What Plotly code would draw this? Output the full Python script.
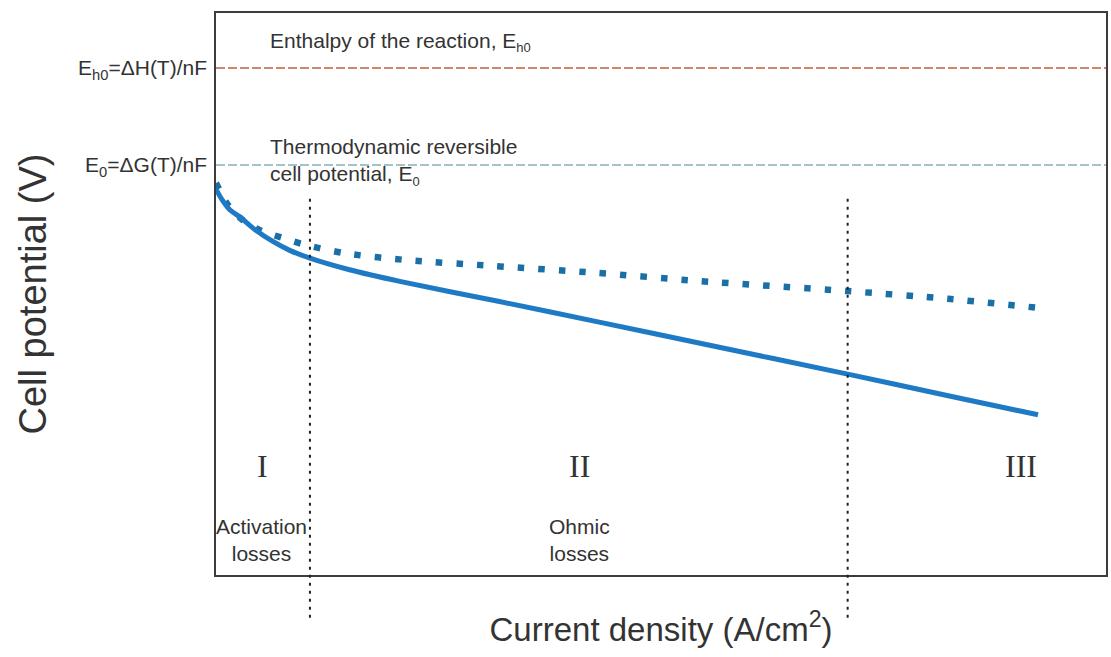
import plotly.graph_objects as go

# ---- data (current density in A/cm^2, cell potential in V) ----
x_actual = [0, 0.015, 0.034, 0.058, 0.094, 0.138, 0.179, 0.228, 0.324, 0.446, 0.688, 0.930, 1.172, 1.533, 1.777, 1.995]
y_actual = [1.168, 1.140, 1.114, 1.096, 1.064, 1.033, 1.010, 0.990, 0.960, 0.930, 0.878, 0.825, 0.771, 0.691, 0.635, 0.586]

x_ideal = [0, 0.029, 0.065, 0.111, 0.162, 0.211, 0.310, 0.462, 0.671, 0.923, 1.172, 1.533, 1.777, 2.002]
y_ideal = [1.184, 1.127, 1.088, 1.060, 1.042, 1.026, 1.003, 0.985, 0.970, 0.952, 0.931, 0.905, 0.885, 0.861]

E_h0 = 1.48   # enthalpy voltage
E_0 = 1.23    # reversible voltage
x_span = [0, 2.16]
y_span = [0.173, 1.622]

region_bounds = [0.228, 1.533]
region_numerals = ["I", "II", "III"]
region_numeral_x = [0.114, 0.881, 1.954]
region_loss_labels = ["Activation<br>losses", "Ohmic<br>losses"]
region_loss_x = [0.111, 0.881]

tick_vals = [E_0, E_h0]
tick_text = ["E<sub>0</sub>=ΔG(T)/nF", "E<sub>h0</sub>=ΔH(T)/nF"]

NARROW = "Liberation Sans Narrow, Arial Narrow, Liberation Sans, Arial, sans-serif"
SANS = "Liberation Sans, Arial, sans-serif"
SERIF = "Liberation Serif, Times New Roman, serif"
TXT = "#333333"

fig = go.Figure()

fig.add_trace(go.Scatter(x=x_span, y=[E_h0, E_h0], mode="lines",
                         line=dict(color="#c0603c", width=1.5, dash="9px,3px"),
                         showlegend=False, hoverinfo="skip"))
fig.add_trace(go.Scatter(x=x_span, y=[E_0, E_0], mode="lines",
                         line=dict(color="#86aebb", width=1.5, dash="9px,3px"),
                         showlegend=False, hoverinfo="skip"))
fig.add_trace(go.Scatter(x=x_ideal, y=y_ideal, mode="lines", line_shape="spline",
                         line=dict(color="#1a6fa6", width=6.5, dash="6.5px,14px", smoothing=0.8),
                         showlegend=False))
fig.add_trace(go.Scatter(x=x_actual, y=y_actual, mode="lines", line_shape="spline",
                         line=dict(color="#1f7ac6", width=5, smoothing=0.8),
                         showlegend=False))

# region boundaries (dotted verticals extending below the frame)
for xb in region_bounds:
    fig.add_shape(type="line", xref="x", yref="paper", x0=xb, x1=xb, y0=-0.076, y1=0.67,
                  line=dict(color="#222222", width=2, dash="3px,5px"))

annotations = []
annotations.append(dict(x=0.126, y=1.547, xref="x", yref="y", xanchor="left", yanchor="middle",
                        text="Enthalpy of the reaction, E<sub><span style='font-size:13px'>h0</span></sub>",
                        showarrow=False, font=dict(family=NARROW, size=21, color=TXT)))
annotations.append(dict(x=0.126, y=1.238, xref="x", yref="y", xanchor="left", yanchor="middle",
                        text="Thermodynamic reversible<br>cell potential, E<sub><span style='font-size:13px'>0</span></sub>",
                        showarrow=False, align="left", font=dict(family=NARROW, size=21, color=TXT)))
for lbl, xv in zip(region_numerals, region_numeral_x):
    annotations.append(dict(x=xv, y=0.455, xref="x", yref="y", text=lbl, showarrow=False,
                            font=dict(family=SERIF, size=32, color=TXT)))
for lbl, xv in zip(region_loss_labels, region_loss_x):
    annotations.append(dict(x=xv, y=0.262, xref="x", yref="y", text=lbl, showarrow=False,
                            font=dict(family=NARROW, size=21, color=TXT)))

fig.update_layout(
    width=1111, height=657,
    margin=dict(l=216, r=3, t=13, b=82),
    paper_bgcolor="white", plot_bgcolor="white",
    annotations=annotations,
    xaxis=dict(range=x_span, showgrid=False, zeroline=False, showticklabels=False, ticks="",
               showline=True, mirror=True, linecolor="#3c3c3c", linewidth=1.5,
               title=dict(text="Current density (A/cm<sup>2</sup>)", standoff=42,
                          font=dict(family=SANS, size=33, color=TXT))),
    yaxis=dict(range=y_span, showgrid=False, zeroline=False, ticks="",
               tickvals=tick_vals, ticktext=tick_text, ticklabelstandoff=3,
               tickfont=dict(family=NARROW, size=21, color=TXT),
               showline=True, mirror=True, linecolor="#3c3c3c", linewidth=1.5,
               title=dict(text="Cell potential (V)", standoff=20,
                          font=dict(family=SANS, size=38, color=TXT))),
)

fig.write_html("out.html")
